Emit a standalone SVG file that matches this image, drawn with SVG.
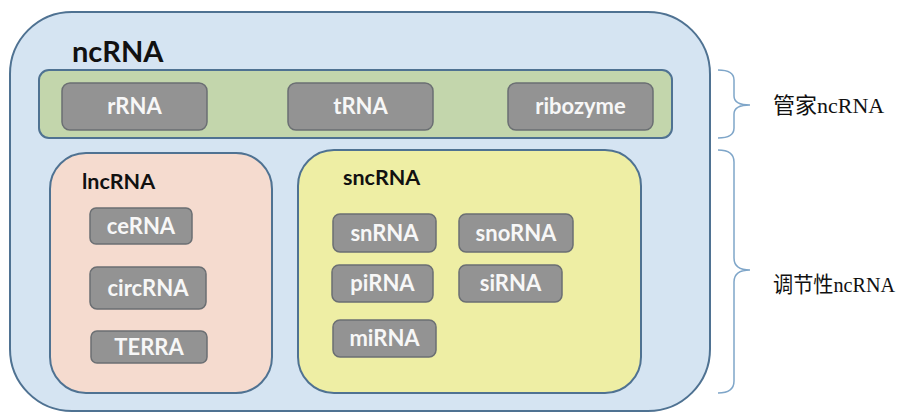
<svg xmlns="http://www.w3.org/2000/svg" width="908" height="413" viewBox="0 0 908 413">
<style>
.item rect{fill:#939393;stroke:#6b6f73;stroke-width:1.5}
.item text{fill:#f7f7f7;font-family:Lato,"Open Sans",sans-serif;font-weight:bold;font-size:22px;text-anchor:middle}
.title{fill:#111;font-family:Lato,"Open Sans",sans-serif;font-weight:bold}
.brace{fill:none;stroke:#7fa6c9;stroke-width:1.5}
.lbl{fill:#111;font-family:"Liberation Serif","Noto Sans CJK SC",serif;font-size:22px}
</style>
<rect width="908" height="413" fill="#fff"/>
<g id="ncRNA">
<rect x="10" y="12" width="700" height="399" rx="62" fill="#d5e4f2" stroke="#4f7292" stroke-width="2"/>
<text class="title" x="72" y="62" font-size="29">ncRNA</text>
</g>
<g id="housekeeping">
<rect x="39" y="70" width="633" height="68" rx="10" fill="#c3d6ac" stroke="#4f7292" stroke-width="2"/>
</g>
<g id="rRNA" class="item"><rect x="62" y="83" width="145" height="47" rx="8"/><text x="134.5" y="114">rRNA</text></g>
<g id="tRNA" class="item"><rect x="288" y="83" width="145" height="47" rx="8"/><text x="360.5" y="114">tRNA</text></g>
<g id="ribozyme" class="item"><rect x="508" y="83" width="145" height="47" rx="8"/><text x="580.5" y="114">ribozyme</text></g>
<g id="lncRNA">
<rect x="50" y="153" width="222" height="240" rx="36" fill="#f5dbcf" stroke="#4f7292" stroke-width="2"/>
<text class="title" x="82" y="189" font-size="21.5">lncRNA</text>
</g>
<g id="sncRNA">
<rect x="298" y="150" width="343" height="243" rx="36" fill="#eeeea4" stroke="#4f7292" stroke-width="2"/>
<text class="title" x="343" y="185" font-size="21.5">sncRNA</text>
</g>
<g id="ceRNA" class="item"><rect x="90" y="208" width="102" height="36" rx="6"/><text x="141" y="234">ceRNA</text></g>
<g id="circRNA" class="item"><rect x="90" y="267" width="116" height="42" rx="7"/><text x="148" y="296">circRNA</text></g>
<g id="TERRA" class="item"><rect x="91" y="331" width="116" height="32" rx="6"/><text x="149" y="355">TERRA</text></g>
<g id="snRNA" class="item"><rect x="333" y="214" width="103" height="38" rx="7"/><text x="384.5" y="241">snRNA</text></g>
<g id="piRNA" class="item"><rect x="332" y="265" width="101" height="37" rx="7"/><text x="382.5" y="291">piRNA</text></g>
<g id="miRNA" class="item"><rect x="333" y="320" width="103" height="37" rx="7"/><text x="384.5" y="346">miRNA</text></g>
<g id="snoRNA" class="item"><rect x="459" y="214" width="114" height="38" rx="7"/><text x="516" y="241">snoRNA</text></g>
<g id="siRNA" class="item"><rect x="459" y="265" width="103" height="37" rx="7"/><text x="510.5" y="291">siRNA</text></g>
<g id="connectors">
<path class="brace" d="M718,70 Q734,70 734,80 L734,96 Q734,105 750,105 Q734,105 734,114 L734,128 Q734,138 718,138"/>
<path class="brace" d="M718,150 Q734,150 734,162 L734,258 Q734,270 750,270 Q734,270 734,282 L734,381 Q734,393 718,393"/>
</g>
<g id="label-housekeeping"><text class="lbl" x="773" y="113">管家ncRNA</text></g>
<g id="label-regulatory"><text class="lbl" x="773" y="292" textLength="122" lengthAdjust="spacingAndGlyphs">调节性ncRNA</text></g>
</svg>
